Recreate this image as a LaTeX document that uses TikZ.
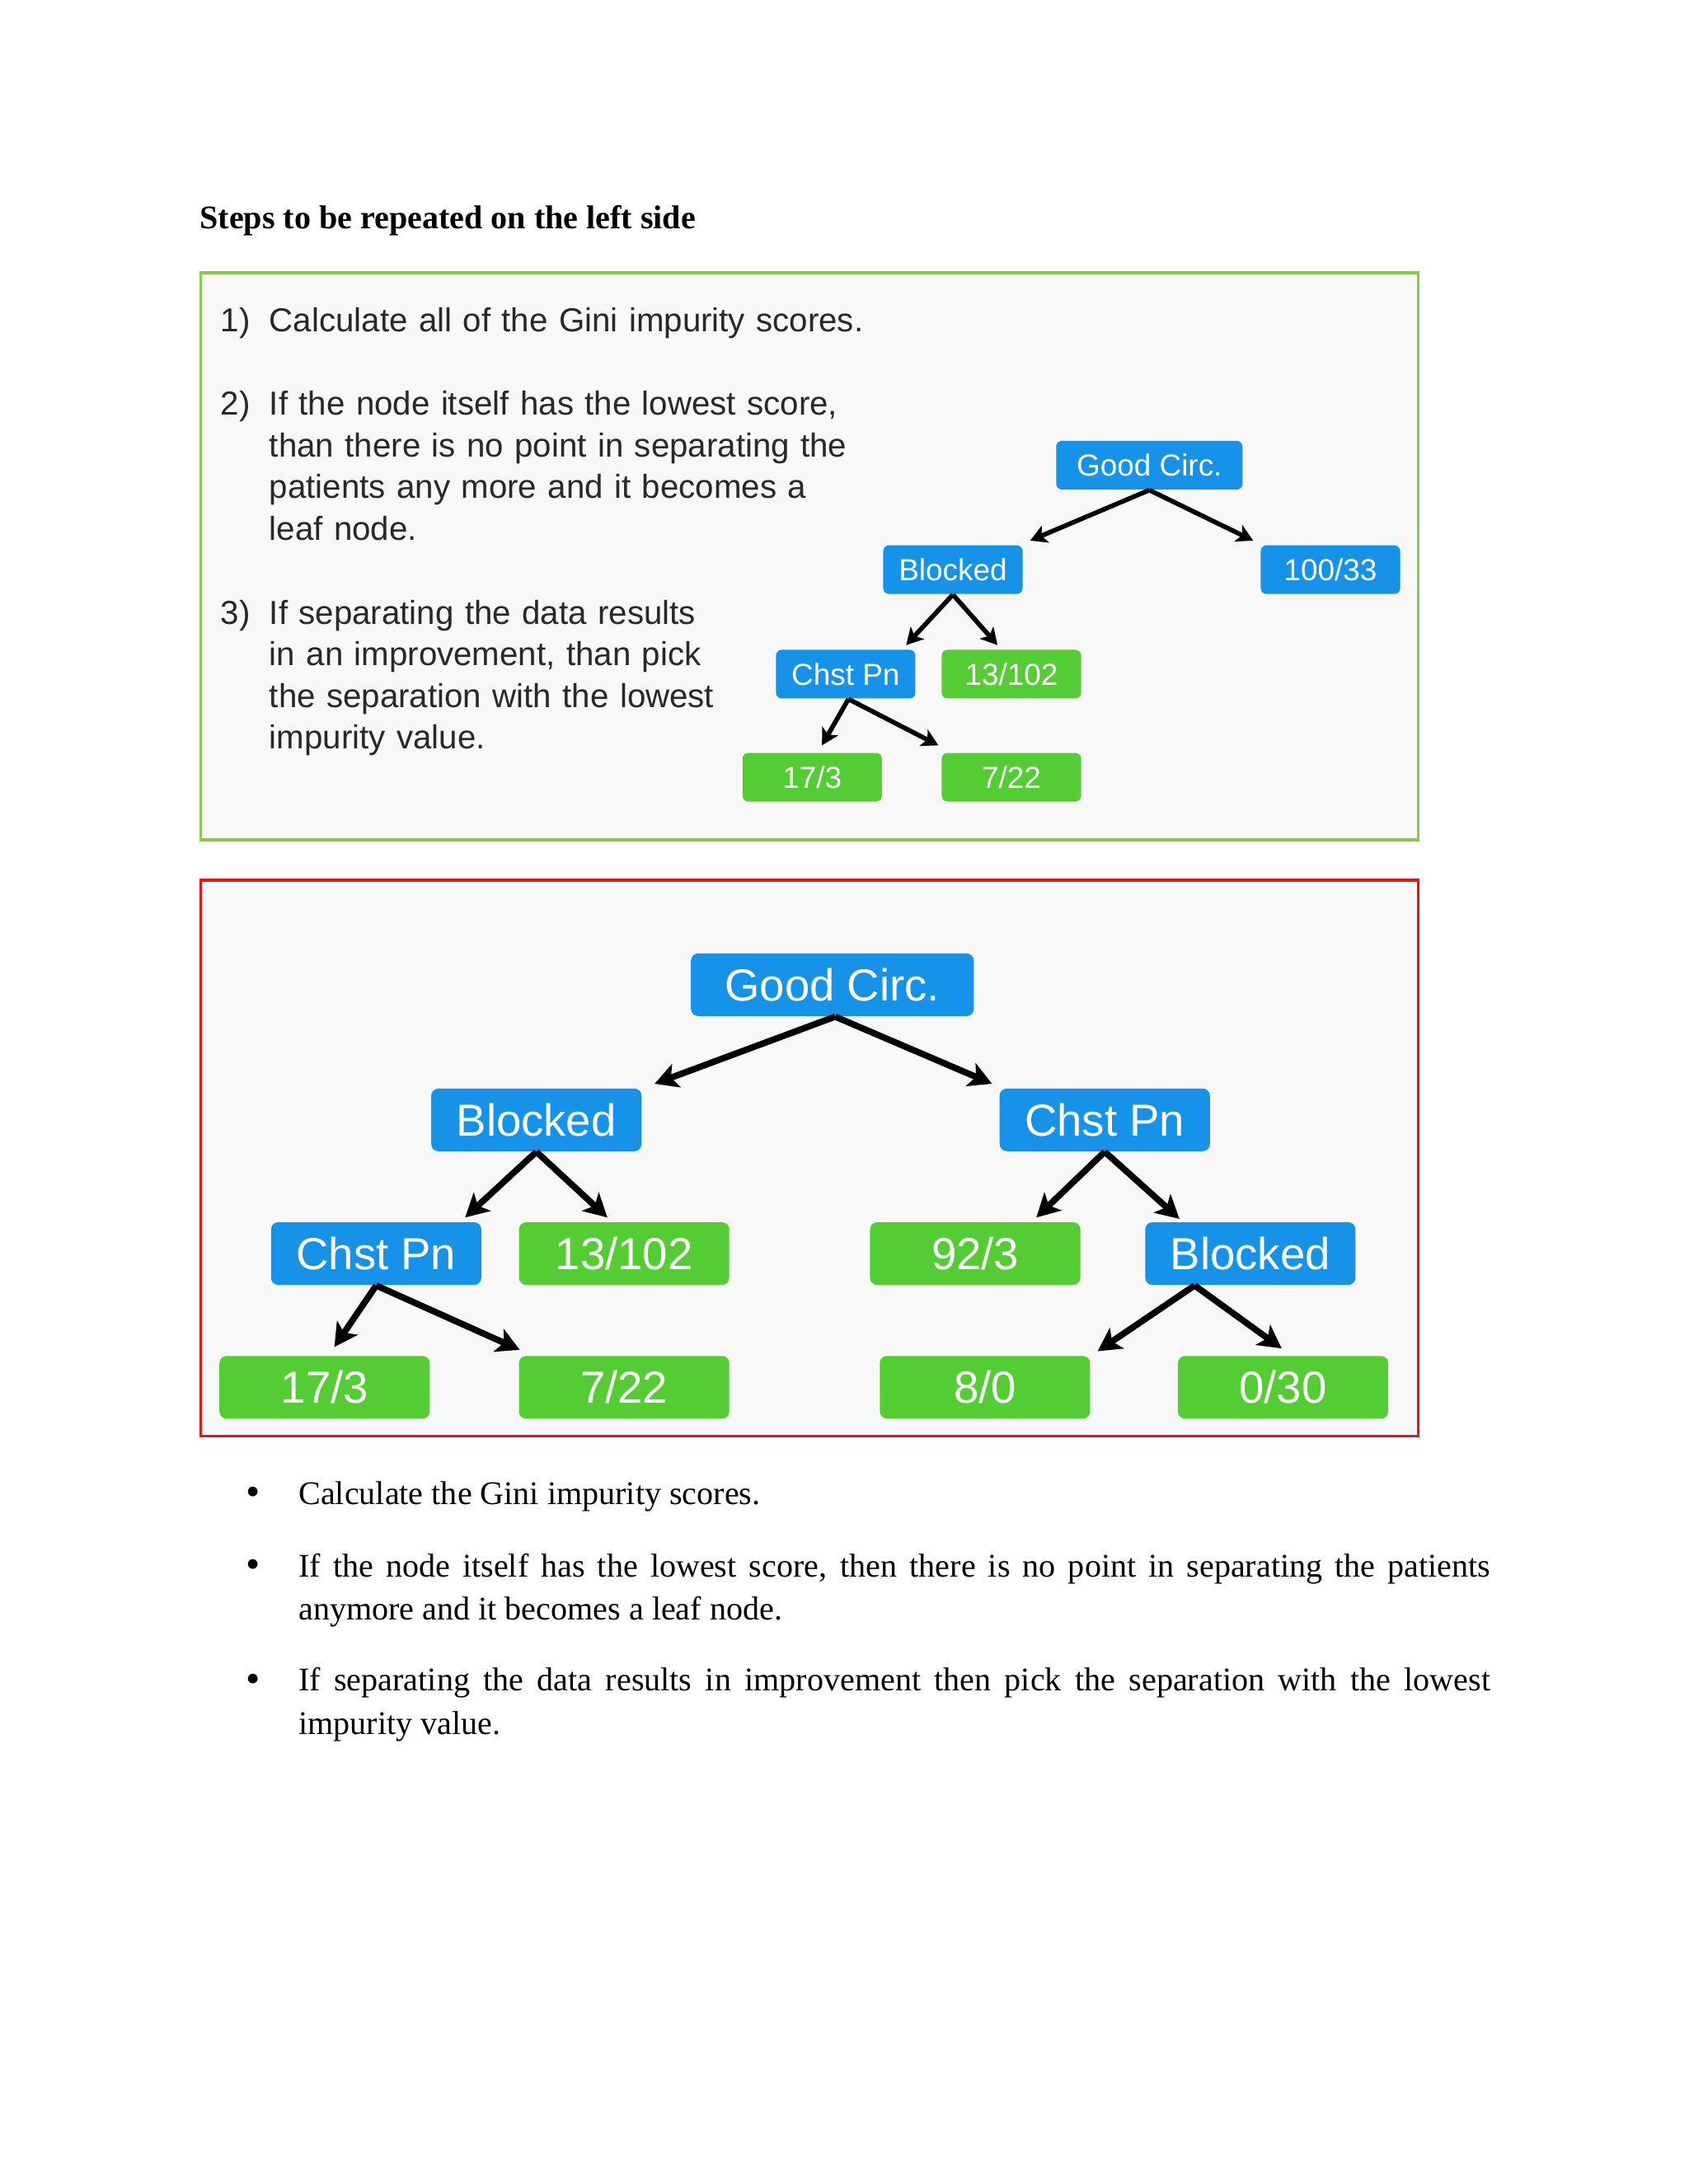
\documentclass[tikz,border=0pt]{standalone}
\usepackage{fontspec}
\setmainfont{Liberation Serif}
\newfontfamily\slidefont{Liberation Sans}
\usetikzlibrary{calc,arrows.meta}
\definecolor{splitblue}{RGB}{22,146,232}
\definecolor{leafgreen}{RGB}{84,205,52}
\definecolor{framegreen}{RGB}{140,200,80}
\definecolor{framered}{RGB}{226,24,24}
\definecolor{slidebg}{RGB}{248,248,248}
\definecolor{slidetext}{RGB}{40,40,40}

\begin{document}
\begin{tikzpicture}[x=0.016898cm,y=-0.016898cm,
  smallbox/.style={rounded corners=2pt, inner sep=0pt, minimum width=1.69cm,
    minimum height=0.59cm, text=white, font=\slidefont\fontsize{10.5}{12}\selectfont},
  bigbox/.style={rounded corners=2.5pt, inner sep=0pt, minimum width=2.55cm,
    minimum height=0.76cm, text=white, font=\slidefont\fontsize{15.5}{18}\selectfont},
  split/.style={fill=splitblue},
  leaf/.style={fill=leafgreen},
  smallarr/.style={-{Stealth[length=0.2cm,width=0.22cm,inset=0.05cm]}, line width=1.6pt},
  bigarr/.style={-{Stealth[length=0.28cm,width=0.3cm,inset=0.07cm]}, line width=2.2pt},
  itemtext/.style={anchor=base west, text width=8cm, align=left, text=slidetext,
    inner sep=0pt, font=\slidefont\fontsize{11.45}{14.37}\selectfont},
  bullettext/.style={anchor=base west, text width=14.45cm, align=justify,
    inner sep=0pt, font=\fontsize{11.4}{14.9}\selectfont},
  dot/.style={anchor=base, inner sep=0pt, font=\fontsize{14}{14}\selectfont}]

% ---- page ----
\fill[white] (0,0) rectangle (1212,1568);
\useasboundingbox (0,0) rectangle (1212,1568);

\node[anchor=base west, inner sep=0pt, font=\bfseries\fontsize{11.4}{13.7}\selectfont]
  (title) at (143,164) {Steps to be repeated on the left side};

% ---- first slide (green frame) ----
\draw[framegreen, fill=slidebg, line width=1pt] (144,196) rectangle (1018,603);

\node[itemtext, text width=1cm] (n1) at (158,238) {1)};
\node[itemtext] (t1) at (193,238) {Calculate all of the Gini impurity scores.};
\node[itemtext, text width=1cm] (n2) at (158,298) {2)};
\node[itemtext] (t2) at (193,298) {If the node itself has the lowest score,\\
  than there is no point in separating the\\ patients any more and it becomes a\\ leaf node.};
\node[itemtext, text width=1cm] (n3) at (158,448) {3)};
\node[itemtext] (t3) at (193,448) {If separating the data results\\
  in an improvement, than pick\\ the separation with the lowest\\ impurity value.};

% small tree
\node[smallbox, split, minimum width=2.26cm] (gcS) at (825,334) {Good Circ.};
\node[smallbox, split] (blS) at (684,409) {Blocked};
\node[smallbox, split] (vS100) at (955,409) {100/33};
\node[smallbox, split] (cpS) at (607,484) {Chst Pn};
\node[smallbox, leaf] (vS13) at (726,484) {13/102};
\node[smallbox, leaf] (vS17) at (583,558) {17/3};
\node[smallbox, leaf] (vS7) at (726,558) {7/22};

\draw[smallarr] (gcS.south) -- ($(blS.north east)+(5,-3)$);
\draw[smallarr] (gcS.south) -- ($(vS100.north west)+(-5,-3)$);
\draw[smallarr] (blS.south) -- ($(cpS.north east)+(-7,-3)$);
\draw[smallarr] (blS.south) -- ($(vS13.north)+(-10,-3)$);
\draw[smallarr] ($(cpS.south)+(2,0)$) -- ($(vS17.north)+(7,-5)$);
\draw[smallarr] ($(cpS.south)+(2,0)$) -- ($(vS7.north west)+(-2,-5)$);

% ---- second slide (red frame) ----
\draw[framered, fill=slidebg, line width=1pt] (144,632) rectangle (1018,1031);

\node[bigbox, split, minimum width=3.43cm] (gc) at (597.5,707) {Good Circ.};
\node[bigbox, split] (bl) at (385,804) {Blocked};
\node[bigbox, split] (cpR) at (793,804) {Chst Pn};
\node[bigbox, split] (cpL) at (270,900) {Chst Pn};
\node[bigbox, leaf] (v13) at (448,900) {13/102};
\node[bigbox, leaf] (v92) at (700,900) {92/3};
\node[bigbox, split] (blR) at (897.5,900) {Blocked};
\node[bigbox, leaf] (v17) at (233,996) {17/3};
\node[bigbox, leaf] (v7) at (448,996) {7/22};
\node[bigbox, leaf] (v8) at (707,996) {8/0};
\node[bigbox, leaf] (v030) at (921,996) {0/30};

\draw[bigarr] ($(gc.south)+(2,0)$) -- ($(bl.north east)+(9,-3)$);
\draw[bigarr] ($(gc.south)+(2,0)$) -- ($(cpR.north west)+(-5,-3)$);
\draw[bigarr] (bl.south) -- ($(cpL.north east)+(-12,-3)$);
\draw[bigarr] (bl.south) -- ($(v13.north)+(-12,-3)$);
\draw[bigarr] (cpR.south) -- ($(v92.north east)+(-32,-3)$);
\draw[bigarr] (cpR.south) -- ($(blR.north west)+(25,-2)$);
\draw[bigarr] (cpL.south) -- ($(v17.north)+(7,-6)$);
\draw[bigarr] (cpL.south) -- ($(v7.north west)+(1,-4)$);
\draw[bigarr] ($(blR.south)+(-40,0)$) -- ($(v8.north east)+(5,-3)$);
\draw[bigarr] ($(blR.south)+(-40,0)$) -- ($(v030.north)+(-1,-5)$);

% ---- bullet list ----
\node[dot] (d1) at (182,1081) {\textbullet};
\node[bullettext] (p1) at (214,1080) {Calculate the Gini impurity scores.};
\node[dot] (d2) at (182,1133) {\textbullet};
\node[bullettext] (p2) at (214,1132) {If the node itself has the lowest score, then there is no
  point in separating the patients\linebreak anymore and it becomes a leaf node.};
\node[dot] (d3) at (182,1215) {\textbullet};
\node[bullettext] (p3) at (214,1214) {If separating the data results in improvement then pick
  the separation with the lowest\linebreak impurity value.};

\end{tikzpicture}
\end{document}
